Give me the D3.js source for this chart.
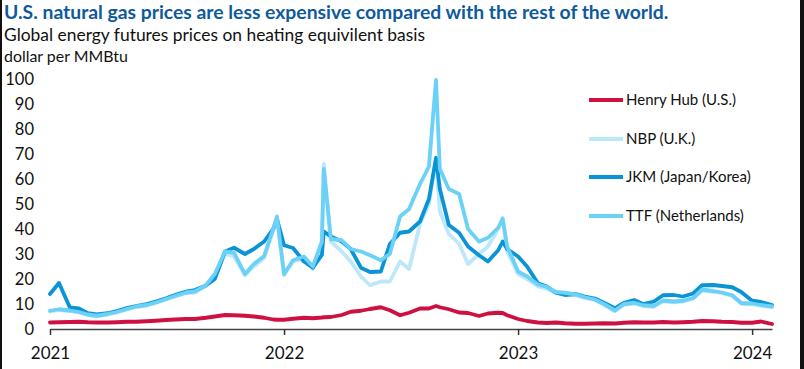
<!DOCTYPE html>
<html><head><meta charset="utf-8">
<script src="https://cdn.jsdelivr.net/npm/d3@7"></script>
<style>
html,body{margin:0;padding:0;background:#fff;}
svg{display:block;font-family:Lato,"Open Sans",sans-serif;}
</style></head>
<body>
<svg id="chart" width="804" height="369"></svg>
<script>
const dates = ["2021-01-01","2021-01-15","2021-02-01","2021-02-15","2021-03-01","2021-03-15","2021-04-01","2021-04-15","2021-05-01","2021-05-15","2021-06-01","2021-06-15","2021-07-01","2021-07-15","2021-08-01","2021-08-15","2021-09-01","2021-09-15","2021-10-01","2021-10-15","2021-11-01","2021-11-15","2021-12-01","2021-12-15","2021-12-21",
"2022-01-01","2022-01-15","2022-02-01","2022-02-15","2022-03-01","2022-03-04","2022-03-15","2022-04-01","2022-04-15","2022-05-01","2022-05-15","2022-06-01","2022-06-15","2022-07-01","2022-07-15","2022-08-01","2022-08-15","2022-08-26","2022-09-01","2022-09-15","2022-10-01","2022-10-15","2022-11-01","2022-11-15","2022-12-01","2022-12-08","2022-12-15",
"2023-01-01","2023-01-15","2023-02-01","2023-02-15","2023-03-01","2023-03-15","2023-04-01","2023-04-15","2023-05-01","2023-05-15","2023-06-01","2023-06-15","2023-07-01","2023-07-15","2023-08-01","2023-08-15","2023-09-01","2023-09-15","2023-10-01","2023-10-15","2023-11-01","2023-11-15","2023-12-01","2023-12-15",
"2024-01-01","2024-01-15","2024-02-01"];

const henryHub = [2.6,2.7,2.8,2.9,2.7,2.6,2.6,2.7,2.9,2.9,3.1,3.3,3.6,3.8,4.0,4.0,4.5,5.0,5.6,5.5,5.3,5.0,4.5,3.8,3.7,
3.7,4.1,4.5,4.3,4.6,4.7,4.8,5.6,6.9,7.3,8.0,8.7,7.5,5.5,6.5,8.2,8.2,9.2,8.7,7.9,6.6,6.4,5.2,6.2,6.5,6.4,5.5,
4.0,3.2,2.6,2.4,2.6,2.3,2.1,2.1,2.2,2.3,2.2,2.5,2.7,2.6,2.6,2.8,2.6,2.7,2.9,3.2,3.1,2.9,2.8,2.5,
2.5,3.0,2.0];

const nbp = [7.0,7.6,7.2,6.6,5.6,5.1,5.8,6.6,7.8,8.8,9.4,10.4,11.8,13.0,14.3,14.6,17.2,21.5,30,29,21.5,25,28.5,39,44,
21.5,27,28,24,34,66,35,31,27,21,17.5,19,19,27,24,42,50,68,47,38,34,26,30,33,40,44.5,31,
22,20,17,16,14.5,14.2,13.5,12.4,11.5,9.7,7.1,9.7,10.2,9.2,8.9,11.1,10.7,11.0,12.1,15.5,14.9,14.3,13.2,10.1,
9.9,9.3,8.8];

const jkm = [14,18.4,8.6,8.2,6.3,5.8,6.3,7.2,8.4,9.2,10,11,12.3,13.6,15,15.6,17.4,20,31,32.5,30,32,35,40,44,
33.5,32.4,27,24.5,29.6,39,37,35,32,24.5,22.8,23,34,38.5,39,43,52,68.5,56,41.6,38.5,33,29.5,27,31.5,35,32,
29,25,18.3,17,14.5,13.6,14,13,12.2,10.5,8.3,10.5,11.6,10,11,13.5,13.6,13,14.2,17.5,17.6,17.2,16.7,14.8,
11.3,10.8,9.6];

const ttf = [7.3,7.9,7.4,6.8,5.8,5.3,6.0,6.8,8.0,9.0,9.6,10.6,12.0,13.2,14.6,15.0,17.5,22,31,30.5,22,26,29.2,40,45,
22,27.5,29,25,35,64,36,35.5,32,31,29.5,27.5,30,45,48,58,65,99.6,64,56,54,40,35,36.5,40.5,44,33,
23,21,17.8,16.8,14.8,14.5,13.8,12.7,11.8,10,7.4,10,10.5,9.5,9.2,11.4,11,11.3,12.4,15.8,15.2,14.6,13.5,10.4,
10.2,9.6,9.0];

const seriesNames = ["Henry Hub (U.S.)","NBP (U.K.)","JKM (Japan/Korea)","TTF (Netherlands)"];
const seriesColors = ["#CE1141","#BDE7FA","#0A93D5","#6BD1F6"];
const seriesValues = [henryHub, nbp, jkm, ttf];
const yTicks = [0,10,20,30,40,50,60,70,80,90,100];
const xTickLabels = ["2021","2022","2023","2024"];

const parse = d3.timeParse("%Y-%m-%d");
const svg = d3.select("#chart");

// frame edges (dark bars on the sides of the reference image)
svg.append("rect").attr("x",0).attr("y",0).attr("width",2).attr("height",369).attr("fill","#111");
svg.append("rect").attr("x",800).attr("y",0).attr("width",4).attr("height",369).attr("fill","#111");

const x = d3.scaleTime().domain([parse("2021-01-01"), parse("2024-02-01")]).range([50, 772]);
const y = d3.scaleLinear().domain([0,100]).range([329, 79]);

function fitText(sel, target){
  const w = sel.node().getComputedTextLength();
  const fs = parseFloat(sel.attr("font-size"));
  sel.attr("font-size", (fs*target/w).toFixed(2));
}

const title = svg.append("text").attr("x",4).attr("y",19).attr("font-size",17).attr("font-weight","bold")
  .attr("fill","#0E5A9B").text("U.S. natural gas prices are less expensive compared with the rest of the world.");
fitText(title, 665);
const sub = svg.append("text").attr("x",4).attr("y",41).attr("font-size",16).attr("fill","#111")
  .text("Global energy futures prices on heating equivilent basis");
fitText(sub, 421);
const unit = svg.append("text").attr("x",4).attr("y",62).attr("font-size",14).attr("fill","#111")
  .text("dollar per MMBtu");
fitText(unit, 124);

// y labels
svg.append("g").selectAll("text").data(yTicks).join("text")
  .attr("x",34).attr("y",d=>y(d)).attr("dy","0.35em").attr("text-anchor","end")
  .attr("font-size",16.5).attr("fill","#111").text(d=>d);

// x axis
const xAxis = d3.axisBottom(x)
  .tickValues(xTickLabels.map(s=>parse(s+"-01-01")))
  .tickFormat((d,i)=>xTickLabels[i]).tickSize(6).tickSizeOuter(0);
const gx = svg.append("g").attr("transform","translate(0,329)").call(xAxis);
gx.select(".domain").attr("stroke","#444").attr("stroke-width",1.5);
gx.selectAll(".tick line").attr("stroke","#333").attr("stroke-width",1.5);
gx.selectAll(".tick text").attr("font-size",17).attr("fill","#111").attr("dy","1.25em")
  .attr("font-family","Lato, 'Open Sans', sans-serif");

// lines
const line = d3.line().x((d,i)=>x(parse(dates[i]))).y(d=>y(d));
[0,1,2,3].forEach(k=>{
  svg.append("path").datum(seriesValues[k]).attr("d", line)
    .attr("fill","none").attr("stroke",seriesColors[k]).attr("stroke-width",3.8)
    .attr("stroke-linejoin","round").attr("stroke-linecap","round");
});

// legend
const legY = [100,139,177,216];
const lg = svg.append("g");
seriesNames.forEach((n,i)=>{
  lg.append("line").attr("x1",589).attr("x2",623).attr("y1",legY[i]).attr("y2",legY[i])
    .attr("stroke",seriesColors[i]).attr("stroke-width",4);
  lg.append("text").attr("x",626).attr("y",legY[i]).attr("dy","0.35em")
    .attr("font-size",15).attr("fill","#111").text(n);
});
</script>
</body></html>
